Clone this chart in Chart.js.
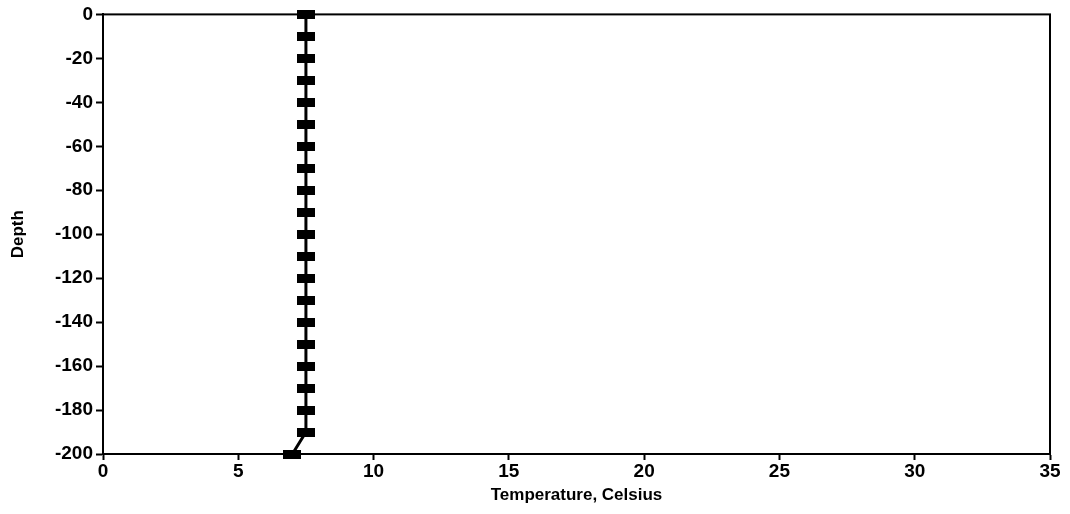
<!DOCTYPE html>
<html>
<head>
<meta charset="utf-8">
<script src="https://cdn.jsdelivr.net/npm/chart.js@4/dist/chart.umd.min.js"></script>
<style>
  html, body { margin: 0; padding: 0; background: #fff; }
  #wrap { width: 1070px; height: 514px; }
</style>
</head>
<body>
<div id="wrap"><canvas id="grafico" width="1070" height="514"></canvas></div>
<script>
// datos
const profundidades = [0, -10, -20, -30, -40, -50, -60, -70, -80, -90, -100, -110, -120, -130, -140, -150, -160, -170, -180, -190, -200];
const temperaturas = [7.5, 7.5, 7.5, 7.5, 7.5, 7.5, 7.5, 7.5, 7.5, 7.5, 7.5, 7.5, 7.5, 7.5, 7.5, 7.5, 7.5, 7.5, 7.5, 7.5, 7.0];
const ticksX = [0, 5, 10, 15, 20, 25, 30, 35];
const ticksY = [0, -20, -40, -60, -80, -100, -120, -140, -160, -180, -200];

// marcador rectangular (mas ancho que alto)
const marca = document.createElement('canvas');
marca.width = 18;
marca.height = 9;
const mctx = marca.getContext('2d');
mctx.fillStyle = '#000';
mctx.fillRect(0, 0, 18, 9);

// marco superior y derecho
const marco = {
    id: 'marco',
    afterDraw(chart) {
        const a = chart.chartArea;
        const ctx = chart.ctx;
        ctx.save();
        ctx.strokeStyle = '#000';
        ctx.lineWidth = 2;
        ctx.strokeRect(a.left, a.top, a.right - a.left, a.bottom - a.top);
        ctx.restore();
    }
};

const puntos = temperaturas.map((t, i) => ({ x: t, y: profundidades[i] }));
const fuente = { family: 'Liberation Sans, Arial, sans-serif', size: 19, weight: 'bold' };
const fuenteTitulo = { family: 'Liberation Sans, Arial, sans-serif', size: 17, weight: 'bold' };

new Chart(document.getElementById('grafico'), {
    type: 'scatter',
    data: {
        datasets: [{
            data: puntos,
            showLine: true,
            borderColor: '#000',
            borderWidth: 3,
            pointStyle: marca,
            pointRadius: 9,
            backgroundColor: '#000',
            clip: false
        }]
    },
    options: {
        responsive: false,
        animation: false,
        layout: { padding: { top: 10, right: 20, left: 0, bottom: 0 } },
        plugins: { legend: { display: false }, tooltip: { enabled: false } },
        scales: {
            x: {
                type: 'linear',
                min: 0, max: 35,
                afterBuildTicks: ax => { ax.ticks = ticksX.map(v => ({ value: v })); },
                afterFit: ax => { ax.height = 60; },
                grid: { drawOnChartArea: false, tickLength: 6, color: '#000', tickWidth: 2 },
                border: { color: '#000', width: 2 },
                ticks: { color: '#000', font: fuente, padding: 0, maxRotation: 0 },
                title: { display: true, text: 'Temperature, Celsius', color: '#000', font: fuenteTitulo, padding: { top: 0, bottom: 8 } }
            },
            y: {
                type: 'linear',
                min: -200, max: 0,
                afterBuildTicks: ax => { ax.ticks = ticksY.map(v => ({ value: v })); },
                afterFit: ax => { ax.width = 103; },
                grid: { drawOnChartArea: false, tickLength: 7, color: '#000', tickWidth: 2 },
                border: { color: '#000', width: 2 },
                ticks: { color: '#000', font: fuente, padding: 3 },
                title: { display: true, text: 'Depth', color: '#000', font: fuenteTitulo, padding: { top: 8, bottom: 0 } }
            }
        }
    },
    plugins: [marco]
});
</script>
</body>
</html>
